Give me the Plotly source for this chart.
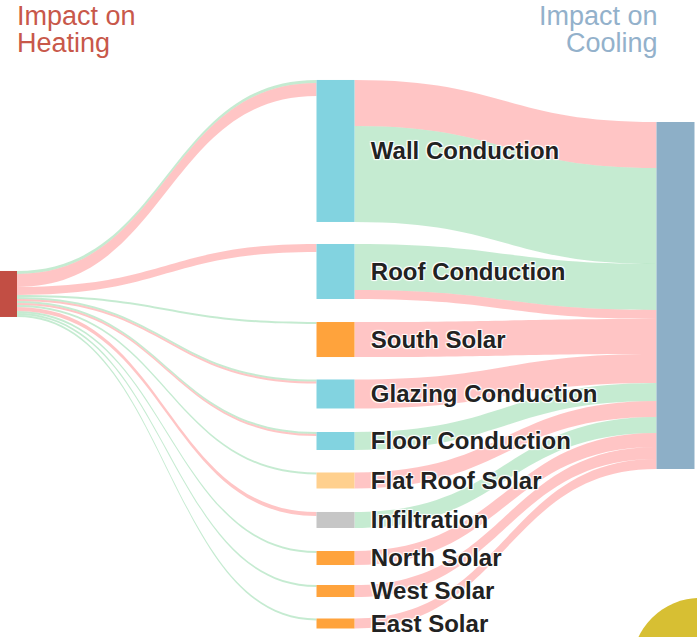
import plotly.graph_objects as go

# Building components and their impact on heating / cooling loads
components = [
    "Wall Conduction", "Roof Conduction", "South Solar", "Glazing Conduction",
    "Floor Conduction", "Flat Roof Solar", "Infiltration", "North Solar",
    "West Solar", "East Solar",
]
heating_increase = [13, 8, 0, 2, 2, 0, 4, 0, 0, 0]
heating_decrease = [3, 0, 2, 2, 2, 2, 0, 2, 2, 2]
cooling_increase = [46, 9, 35, 29, 0, 16, 0, 14, 12, 10]
cooling_decrease = [96, 46, 0, 0, 18, 0, 16, 0, 0, 0]
# stacking order of the two cooling flows leaving each component
cooling_decrease_first = [False, True, False, False, False, False, False, False, False, False]

# styling
CONDUCTION = "#82D3E0"
SOLAR = "#FFA33C"
component_colors = [CONDUCTION, CONDUCTION, SOLAR, CONDUCTION, CONDUCTION,
                    "#FFD08E", "#C6C6C6", SOLAR, SOLAR, SOLAR]
HEAT_COLOR = "#C24E44"
COOL_COLOR = "#8DAFC7"
INC_LINK = "rgba(255,110,110,0.40)"
DEC_LINK = "rgba(110,205,140,0.40)"

# node placement (fractions of the plot area)
heat_pos = (-0.00287, 0.4615)
cool_pos = (0.96915, 0.4639)
comp_x = 0.48135
comp_y = [0.2370, 0.4262, 0.5330, 0.6185, 0.6923, 0.7543, 0.8163, 0.8760, 0.9278, 0.9788]

HEAT, COOL = 0, 1
labels = ["", ""] + ["\u00a0\u00a0" + c for c in components]
colors = [HEAT_COLOR, COOL_COLOR] + component_colors
xs = [heat_pos[0], cool_pos[0]] + [comp_x] * len(components)
ys = [heat_pos[1], cool_pos[1]] + comp_y

src, tgt, val, lcol = [], [], [], []


def add(s, t, v, c):
    if v > 0:
        src.append(s)
        tgt.append(t)
        val.append(v)
        lcol.append(c)


for i in range(len(components)):
    node = i + 2
    add(HEAT, node, heating_decrease[i], DEC_LINK)
    add(HEAT, node, heating_increase[i], INC_LINK)
    if cooling_decrease_first[i]:
        add(node, COOL, cooling_decrease[i], DEC_LINK)
        add(node, COOL, cooling_increase[i], INC_LINK)
    else:
        add(node, COOL, cooling_increase[i], INC_LINK)
        add(node, COOL, cooling_decrease[i], DEC_LINK)

# widest column sets the scale; padding keeps it filling the plot height
H = 637
mid_total = sum(max(heating_increase[i] + heating_decrease[i],
                    cooling_increase[i] + cooling_decrease[i])
                for i in range(len(components)))
pad = (H - mid_total) / (len(components) - 1)

fig = go.Figure(go.Sankey(
    arrangement="fixed",
    domain=dict(x=[0, 1], y=[0, 1]),
    node=dict(
        label=labels,
        color=colors,
        x=xs,
        y=ys,
        pad=pad,
        thickness=38,
        line=dict(width=0),
    ),
    link=dict(source=src, target=tgt, value=val, color=lcol),
    textfont=dict(family="Liberation Sans, Arial", size=24, color="#222222",
                  weight="bold"),
))

title_font_h = dict(family="Liberation Sans, Arial", size=27, color="#C8584A")
title_font_c = dict(family="Liberation Sans, Arial", size=27, color="#93B1CB")
fig.update_layout(
    width=697, height=H,
    margin=dict(l=0, r=0, t=0, b=0),
    paper_bgcolor="white",
    showlegend=False,
    annotations=[
        dict(text="Impact on", x=0.0215, y=0.9755, xref="paper", yref="paper",
             xanchor="left", yanchor="middle", showarrow=False, font=title_font_h),
        dict(text="Heating", x=0.0215, y=0.9331, xref="paper", yref="paper",
             xanchor="left", yanchor="middle", showarrow=False, font=title_font_h),
        dict(text="Impact on", x=0.947, y=0.9755, xref="paper", yref="paper",
             xanchor="right", yanchor="middle", showarrow=False, font=title_font_c),
        dict(text="Cooling", x=0.947, y=0.9331, xref="paper", yref="paper",
             xanchor="right", yanchor="middle", showarrow=False, font=title_font_c),
    ],
    shapes=[
        dict(type="circle", xref="paper", yref="paper",
             x0=0.9067, x1=1.1019, y0=-0.1523, y1=0.0612,
             fillcolor="#D7BF33", line=dict(width=0), layer="above"),
    ],
)

fig.write_html("out.html")
